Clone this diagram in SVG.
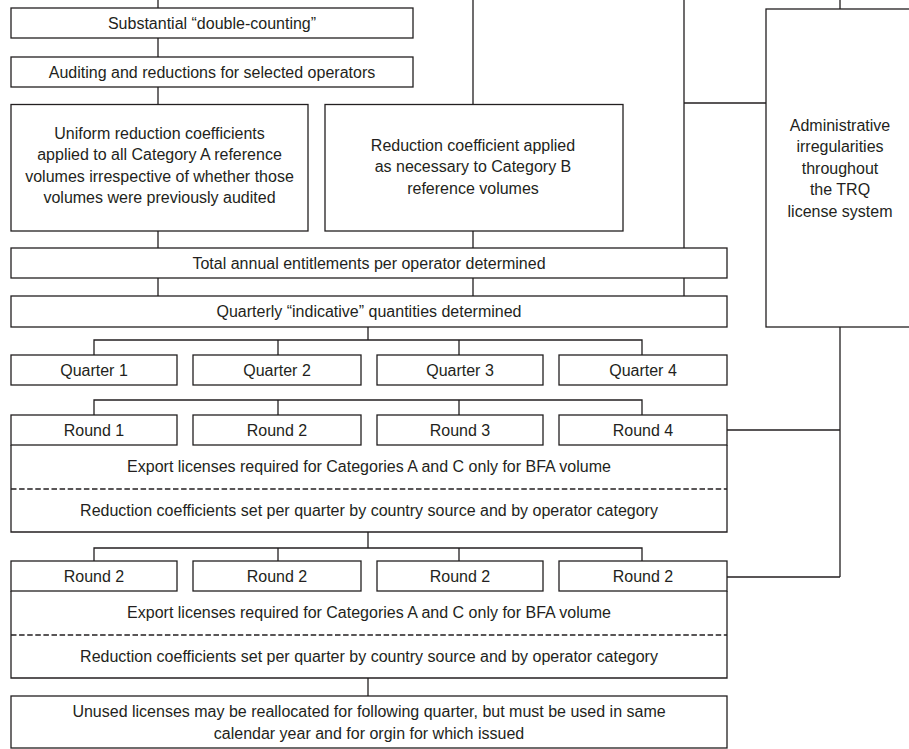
<svg xmlns="http://www.w3.org/2000/svg" width="909" height="749" viewBox="0 0 909 749">
<style>
.b{fill:#fff;stroke:#231f20;stroke-width:1.3}
.o{fill:none;stroke:#231f20;stroke-width:1.3}
.c{fill:none;stroke:#231f20;stroke-width:1.3}
.d{fill:none;stroke:#231f20;stroke-width:1.6;stroke-dasharray:5.5 2.6}
text{font-family:"Liberation Sans",Arial,sans-serif;font-size:16px;fill:#231f20;text-anchor:middle}
</style>
<rect width="909" height="749" fill="#fff"/>
<g id="connectors">
<path class="c" d="M158,0V8M158,38V57M158,87V104.5M158,231V248M158,278V296"/>
<path class="c" d="M473,0V104.5M473,231V248M473,278V296"/>
<path class="c" d="M684,0V248M684,278V296M684,103H766"/>
<path class="c" d="M840,0V9M840,327V577M727,430H840M727,577H840"/>
<path class="c" d="M368,327V340M94,355V340H642V355M278,340V355M459,340V355"/>
<path class="c" d="M94,415V400H642V415M278,400V415M459,400V415"/>
<path class="c" d="M368,532V548M94,561V548H642V561M278,548V561M459,548V561"/>
<path class="c" d="M368,678V696"/>
</g>
<g id="n1"><rect class="b" x="11" y="8" width="402" height="30"/><text x="212" y="28.5">Substantial “double-counting”</text></g>
<g id="n2"><rect class="b" x="11" y="57" width="402" height="30"/><text x="212" y="77.5">Auditing and reductions for selected operators</text></g>
<g id="n3"><rect class="b" x="11" y="104.5" width="297" height="126.5"/>
<text x="159.5" y="138.5">Uniform reduction coefficients</text>
<text x="159.5" y="160">applied to all Category A reference</text>
<text x="159.5" y="181.5">volumes irrespective of whether those</text>
<text x="159.5" y="203">volumes were previously audited</text></g>
<g id="n4"><rect class="b" x="325" y="104.5" width="298" height="126.5"/>
<text x="473" y="150.5">Reduction coefficient applied</text>
<text x="473" y="172">as necessary to Category B</text>
<text x="473" y="193.5">reference volumes</text></g>
<g id="n5"><rect class="b" x="766" y="9" width="160" height="318"/>
<text x="840" y="130.5">Administrative</text>
<text x="840" y="152">irregularities</text>
<text x="840" y="173.5">throughout</text>
<text x="840" y="195">the TRQ</text>
<text x="840" y="216.5">license system</text></g>
<g id="n6"><rect class="b" x="11" y="248" width="716" height="30"/><text x="369" y="268.5">Total annual entitlements per operator determined</text></g>
<g id="n7"><rect class="b" x="11" y="296" width="716" height="31"/><text x="369" y="317">Quarterly “indicative” quantities determined</text></g>
<g id="q1"><rect class="b" x="11" y="355" width="166" height="30"/><text x="94" y="375.5">Quarter 1</text></g>
<g id="q2"><rect class="b" x="193" y="355" width="168" height="30"/><text x="277" y="375.5">Quarter 2</text></g>
<g id="q3"><rect class="b" x="377" y="355" width="166" height="30"/><text x="460" y="375.5">Quarter 3</text></g>
<g id="q4"><rect class="b" x="559" y="355" width="168" height="30"/><text x="643" y="375.5">Quarter 4</text></g>
<g id="panel1">
<path class="o" d="M11,445V532H727V445"/>
<line class="d" x1="11" y1="489" x2="727" y2="489"/>
<text x="369" y="472.2">Export licenses required for Categories A and C only for BFA volume</text>
<text x="369" y="516.2">Reduction coefficients set per quarter by country source and by operator category</text>
</g>
<g id="r1"><rect class="b" x="11" y="415" width="166" height="30"/><text x="94" y="435.5">Round 1</text></g>
<g id="r2"><rect class="b" x="193" y="415" width="168" height="30"/><text x="277" y="435.5">Round 2</text></g>
<g id="r3"><rect class="b" x="377" y="415" width="166" height="30"/><text x="460" y="435.5">Round 3</text></g>
<g id="r4"><rect class="b" x="559" y="415" width="168" height="30"/><text x="643" y="435.5">Round 4</text></g>
<g id="panel2">
<path class="o" d="M11,591V678H727V591"/>
<line class="d" x1="11" y1="635" x2="727" y2="635"/>
<text x="369" y="618.2">Export licenses required for Categories A and C only for BFA volume</text>
<text x="369" y="662.2">Reduction coefficients set per quarter by country source and by operator category</text>
</g>
<g id="s1"><rect class="b" x="11" y="561" width="166" height="30"/><text x="94" y="581.5">Round 2</text></g>
<g id="s2"><rect class="b" x="193" y="561" width="168" height="30"/><text x="277" y="581.5">Round 2</text></g>
<g id="s3"><rect class="b" x="377" y="561" width="166" height="30"/><text x="460" y="581.5">Round 2</text></g>
<g id="s4"><rect class="b" x="559" y="561" width="168" height="30"/><text x="643" y="581.5">Round 2</text></g>
<g id="n8"><rect class="b" x="11" y="696" width="716" height="52"/>
<text x="369" y="717">Unused licenses may be reallocated for following quarter, but must be used in same</text>
<text x="369" y="738.5">calendar year and for orgin for which issued</text></g>
</svg>
